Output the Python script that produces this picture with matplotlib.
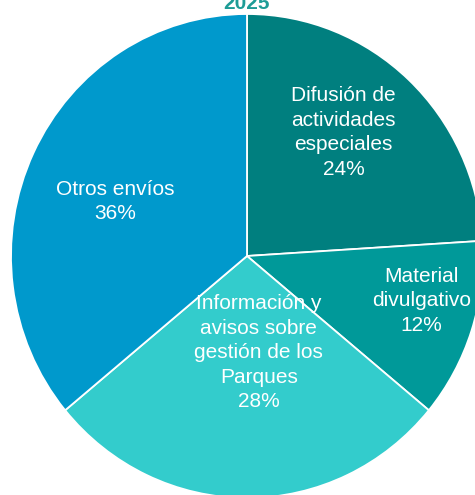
import matplotlib.pyplot as plt

plt.rcParams['font.family'] = ['Liberation Sans', 'DejaVu Sans']

# ------------------------------
# Data
# ------------------------------
labels = ["Difusión de\nactividades\nespeciales", "Material\ndivulgativo",
          "Información y\navisos sobre\ngestión de los\nParques", "Otros envíos"]
shares = [24, 12, 28, 36]
colors = ["#007F7F", "#009999", "#33CCCC", "#0099CC"]
# label centres (pie radius units)
label_pos = [(0.41, 0.51), (0.74, -0.185), (0.05, -0.40), (-0.56, 0.225)]
title = "2025"

# ------------------------------
# Plot
# ------------------------------
fig = plt.figure(figsize=(4.75, 4.95), dpi=100)
ax = fig.add_axes([0, 0, 1, 1])

ax.pie(shares, colors=colors, startangle=90, counterclock=False,
       wedgeprops=dict(edgecolor='white', linewidth=1.3))

ax.set_aspect('auto')
ax.set_xlim(-247 / 236, 228 / 236)
ax.set_ylim(-239 / 242, 256 / 242)
ax.axis('off')

for lab, val, (x, y) in zip(labels, shares, label_pos):
    ax.text(x, y, f"{lab}\n{val}%", ha='center', va='center', color='white',
            fontsize=15, linespacing=1.37)

ax.text(0, (256 - 9) / 242, title, ha='center', va='baseline',
        color='#1E9C96', fontsize=15, fontweight='bold')

fig.savefig("out.png", dpi=100)
